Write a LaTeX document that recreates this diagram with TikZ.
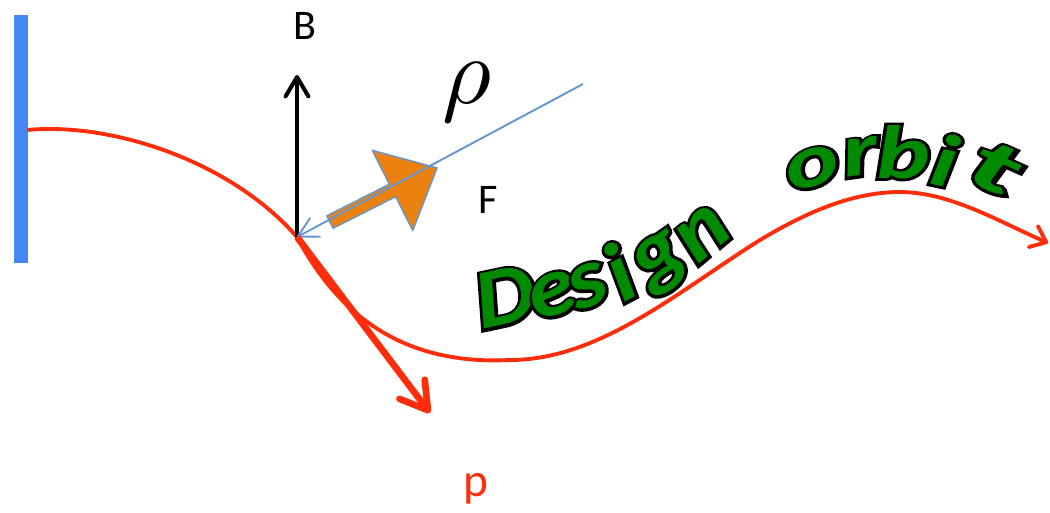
\documentclass[tikz,border=0pt]{standalone}
\usepackage{fontspec}
\setmainfont{Carlito}
\newfontfamily\edgefam{Carlito}[BoldItalicFeatures={FakeBold=7}]
\newcommand\outlined[1]{\rlap{\edgefam\color{black}#1}#1}
\usetikzlibrary{arrows.meta}

\definecolor{orbitred}{RGB}{255,45,10}
\definecolor{screenblue}{RGB}{72,133,245}
\definecolor{rhoblue}{RGB}{100,150,210}
\definecolor{kickorange}{RGB}{235,130,15}
\definecolor{titlegreen}{RGB}{0,138,0}

\begin{document}
\begin{tikzpicture}[
        x=0.02cm,
        y=-0.02cm,
        orbit/.style={draw=orbitred, line width=2.2pt},
        momentum/.style={draw=orbitred, line width=3.8pt},
        field/.style={draw=black, line width=2.3pt},
        radius/.style={draw=rhoblue, line width=1.1pt},
        label/.style={inner sep=0pt, font=\fontsize{24}{28}\selectfont},
        glyph/.style={inner sep=0pt, text=titlegreen,
            font=\fontsize{48}{54}\selectfont\bfseries\itshape},
        small glyph/.style={font=\fontsize{43}{48}\selectfont\bfseries\itshape}
    ]
        \useasboundingbox (0,0) rectangle (1050,512);

        % screen at the start
        \coordinate (screentop) at (21,15);
        \coordinate (screenbot) at (21,263);
        \draw[draw=screenblue, line width=7.4pt] (screentop) -- (screenbot);

        % the design orbit
        \coordinate (orbitstart) at (27,130);
        \coordinate (kick) at (297,237);
        \coordinate (valley) at (510,360);
        \coordinate (rise) at (760,240);
        \coordinate (crest) at (900,192);
        \coordinate (orbitend) at (1048,243);
        \draw[orbit, -{Straight Barb[round, length=8pt, width=13pt]}]
            (orbitstart) .. controls (110,122) and (230,160) .. (kick)
            .. controls (342,322) and (410,365) .. (valley)
            .. controls (600,360) and (680,290) .. (rise)
            .. controls (810,210) and (855,192) .. (crest)
            .. controls (950,192) and (1000,222) .. (orbitend);

        % kick: orange block arrow
        \begin{scope}[shift={(330,222)}, rotate=26.8]
            \filldraw[fill=kickorange, draw=rhoblue, line width=0.8pt, line join=round]
                (0,-7) -- (70,-7) -- (70,-45) -- (120,0) -- (70,45) -- (70,7) -- (0,7) -- cycle;
        \end{scope}

        % B, rho, p
        \coordinate (Btip) at (297,75);
        \coordinate (rhoend) at (583,84);
        \coordinate (ptip) at (430,413);
        \draw[field, -{Straight Barb[round, length=11pt, width=13pt]}] (kick) -- (Btip);
        \draw[radius, -{Straight Barb[round, length=11pt, width=12pt]}] (rhoend) -- (kick);
        \draw[momentum, -{Straight Barb[round, length=15pt, width=18pt]}] (kick) -- (ptip);

        \node[label] (Blabel) at (305,26) {B};
        \node[label] (Flabel) at (488,200) {F};
        \node[label, text=orbitred, font=\fontsize{27}{30}\selectfont] (plabel) at (476,489) {p};
        \node[inner sep=0pt] (rholabel) at (467,92) {\scalebox{5.4}{$\rho$}};

        % Design orbit, letter by letter
        \foreach \ch/\x/\y/\r [count=\k] in {
            D/505/297/12, e/553/295/15, s/588/286/20,
            i/619/272/28, g/662/263/35, n/703/234/40
        }{
            \node[rotate=\r, glyph, xscale=1.12] (d\k) at (\x,\y) {\outlined{\ch}};
        }
        \foreach \ch/\x/\y/\r/\s [count=\k] in {
            o/813/168/15/1.35, r/861/157/8/1.35, b/903/152/0/1.35,
            i/945/160/-12/1.35, t/995/168/-24/1.8
        }{
            \node[rotate=\r, glyph, small glyph, xscale=\s] (o\k) at (\x,\y) {\outlined{\ch}};
        }
\end{tikzpicture}
\end{document}
